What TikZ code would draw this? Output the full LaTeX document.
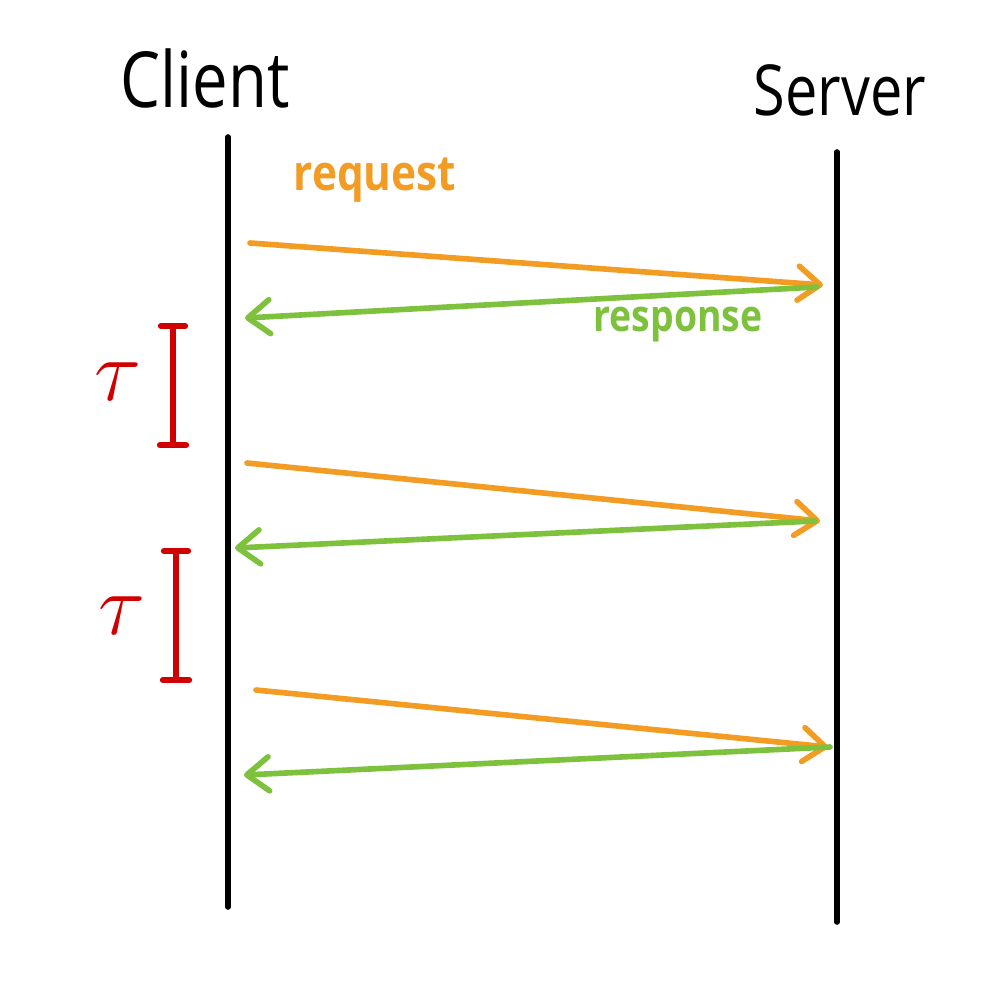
\documentclass[tikz,border=0pt]{standalone}
\usepackage{fontspec}
\setmainfont{Open Sans}
\usetikzlibrary{arrows.meta}
\definecolor{reqc}{HTML}{F39C24}
\definecolor{resc}{HTML}{7DC13D}
\definecolor{tauc}{HTML}{D00000}
\tikzset{
  life/.style={line width=1.6pt, black, line cap=round},
  msg/.style={line width=1.6pt, line cap=round, -{Straight Barb[length=2.2mm,width=3.4mm,line width=1.6pt, round]}},
  reqarrow/.style={msg, reqc},
  resarrow/.style={msg, resc},
  bracket/.style={line width=1.8pt, tauc, line cap=round},
  title/.style={font=\fontsize{22}{24}\selectfont, inner sep=0pt},
  lab/.style={font=\bfseries\fontsize{14}{16}\selectfont, inner sep=0pt},
  taulab/.style={font=\fontsize{24}{26}\selectfont, tauc, inner sep=0pt}
}
\begin{document}
\begin{tikzpicture}[x=0.01cm,y=-0.01cm]
\useasboundingbox (0,0) rectangle (1000,1003);
% titles
\node[title] (client) at (205,78) {\scalebox{0.82}[1]{Client}};
\node[title, font=\fontsize{20}{22}\selectfont] (server) at (840,90) {\scalebox{0.82}[1]{Server}};
% lifelines
\coordinate (c0) at (228,137);
\coordinate (c1) at (228,907);
\coordinate (s0) at (837,152);
\coordinate (s1) at (837,922);
\draw[life] (c0) -- (c1);
\draw[life] (s0) -- (s1);
% messages
\coordinate (q1a) at (250,243); \coordinate (q1b) at (823,285);
\coordinate (r1a) at (817,287); \coordinate (r1b) at (245,318);
\coordinate (q2a) at (247,463); \coordinate (q2b) at (820,521);
\coordinate (r2a) at (815,521); \coordinate (r2b) at (235,548);
\coordinate (q3a) at (256,690); \coordinate (q3b) at (828,747);
\coordinate (r3a) at (830,747); \coordinate (r3b) at (244,775);
\draw[reqarrow] (q1a) -- (q1b);
\draw[resarrow] (r1a) -- (r1b);
\draw[reqarrow] (q2a) -- (q2b);
\draw[resarrow] (r2a) -- (r2b);
\draw[reqarrow] (q3a) -- (q3b);
\draw[resarrow] (r3a) -- (r3b);
% labels
\node[lab, reqc] (req) at (375,180) {\scalebox{0.86}[1]{request}};
\node[lab, resc, font=\bfseries\fontsize{12.5}{14}\selectfont] (res) at (678,325) {\scalebox{0.85}[1]{response}};
% tau brackets
\coordinate (b1t) at (173,326); \coordinate (b1b) at (173,445);
\coordinate (b2t) at (176,551); \coordinate (b2b) at (176,680);
\draw[bracket] (b1t) -- (b1b);
\draw[bracket] ([xshift=-0.12cm]b1t) -- ([xshift=0.12cm]b1t);
\draw[bracket] ([xshift=-0.13cm]b1b) -- ([xshift=0.13cm]b1b);
\draw[bracket] (b2t) -- (b2b);
\draw[bracket] ([xshift=-0.12cm]b2t) -- ([xshift=0.12cm]b2t);
\draw[bracket] ([xshift=-0.13cm]b2b) -- ([xshift=0.13cm]b2b);
\node[taulab] (tau1) at (118,382) {$\tau$};
\node[taulab] (tau2) at (122,616) {$\tau$};
\end{tikzpicture}
\end{document}
